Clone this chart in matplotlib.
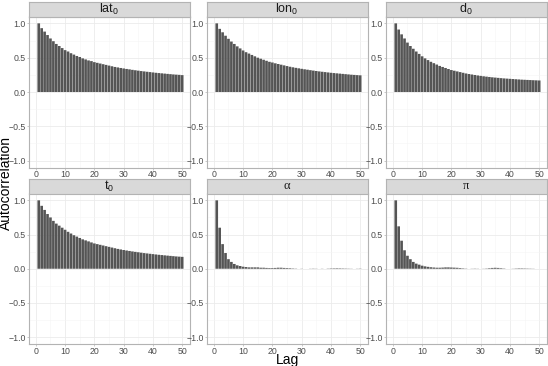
import matplotlib
matplotlib.use("Agg")
import matplotlib.pyplot as plt
import numpy as np

plt.rcParams['font.family'] = ['Liberation Sans', 'DejaVu Sans']
plt.rcParams['mathtext.fontset'] = 'custom'
plt.rcParams['mathtext.rm'] = 'Liberation Sans'
plt.rcParams['mathtext.it'] = 'Liberation Sans:italic'

lags = list(range(1, 51))

lat0 = [1.0, 0.93, 0.88, 0.83, 0.78, 0.74, 0.70, 0.67, 0.64, 0.61,
        0.59, 0.565, 0.545, 0.525, 0.51, 0.49, 0.475, 0.46, 0.45, 0.435,
        0.425, 0.415, 0.405, 0.395, 0.385, 0.375, 0.365, 0.358, 0.35, 0.343,
        0.336, 0.33, 0.323, 0.317, 0.311, 0.305, 0.30, 0.295, 0.29, 0.285,
        0.28, 0.276, 0.272, 0.268, 0.264, 0.26, 0.256, 0.253, 0.25, 0.246]
lon0 = [1.0, 0.92, 0.87, 0.82, 0.775, 0.735, 0.70, 0.665, 0.635, 0.605,
        0.58, 0.56, 0.54, 0.52, 0.50, 0.485, 0.47, 0.455, 0.44, 0.43,
        0.418, 0.408, 0.398, 0.388, 0.378, 0.368, 0.36, 0.352, 0.345, 0.338,
        0.331, 0.325, 0.318, 0.312, 0.306, 0.30, 0.295, 0.29, 0.285, 0.28,
        0.276, 0.272, 0.268, 0.264, 0.26, 0.256, 0.252, 0.249, 0.246, 0.243]
d0 = [1.0, 0.91, 0.84, 0.78, 0.72, 0.67, 0.63, 0.59, 0.555, 0.52,
      0.49, 0.465, 0.44, 0.42, 0.40, 0.38, 0.365, 0.35, 0.335, 0.32,
      0.31, 0.30, 0.29, 0.28, 0.27, 0.262, 0.255, 0.248, 0.241, 0.235,
      0.229, 0.224, 0.219, 0.214, 0.21, 0.206, 0.202, 0.198, 0.195, 0.192,
      0.189, 0.186, 0.183, 0.18, 0.178, 0.176, 0.174, 0.172, 0.17, 0.168]
t0 = [1.0, 0.92, 0.86, 0.80, 0.75, 0.70, 0.66, 0.63, 0.60, 0.57,
      0.54, 0.515, 0.49, 0.47, 0.45, 0.43, 0.415, 0.40, 0.385, 0.37,
      0.36, 0.35, 0.34, 0.33, 0.32, 0.31, 0.30, 0.29, 0.282, 0.274,
      0.267, 0.26, 0.253, 0.247, 0.241, 0.235, 0.229, 0.224, 0.219, 0.214,
      0.209, 0.204, 0.2, 0.196, 0.192, 0.188, 0.184, 0.18, 0.177, 0.174]
alpha = [1.0, 0.60, 0.36, 0.23, 0.14, 0.10, 0.07, 0.05, 0.04, 0.03,
         0.025, 0.02, 0.02, 0.02, 0.02, 0.015, 0.015, 0.012, 0.01, 0.01,
         0.012, 0.015, 0.015, 0.012, 0.01, 0.008, 0.005, 0.003, 0.0, -0.002,
         0.0, 0.0, 0.002, 0.003, 0.002, 0.0, -0.002, 0.0, 0.003, 0.005,
         0.006, 0.007, 0.006, 0.005, 0.004, 0.003, 0.002, 0.0, -0.002, -0.003]
pi_vals = [1.0, 0.62, 0.41, 0.27, 0.19, 0.14, 0.10, 0.075, 0.06, 0.045,
           0.035, 0.028, 0.022, 0.018, 0.015, 0.015, 0.017, 0.02, 0.02, 0.018,
           0.016, 0.014, 0.01, 0.006, 0.003, 0.0, -0.002, -0.003, -0.002, 0.0,
           0.002, 0.004, 0.008, 0.012, 0.014, 0.012, 0.008, 0.004, 0.0, 0.0,
           0.002, 0.004, 0.006, 0.006, 0.005, 0.004, 0.003, 0.002, 0.0, 0.0]

titles = [r'lat$_0$', r'lon$_0$', r'd$_0$', r't$_0$', '\u03b1', '\u03c0']
title_fonts = [None, None, None, None, 'Liberation Serif', 'Liberation Serif']
series = [lat0, lon0, d0, t0, alpha, pi_vals]

W, H = 548, 366
fig = plt.figure(figsize=(W / 100, H / 100), dpi=100)

col_x = [(28.5, 189.5), (206.5, 367.5), (385.5, 546.5)]
row_y = [(2.0, 16.5, 167.5), (179.0, 193.5, 344.0)]  # strip top, panel top, panel bottom

bar_color = '#555555'
border_color = '#B3B3B3'
grid_color = '#EBEBEB'

for i, (title, vals) in enumerate(zip(titles, series)):
    r, c = divmod(i, 3)
    x0, x1 = col_x[c]
    st, pt, pb = row_y[r]
    ax = fig.add_axes([x0 / W, 1 - pb / H, (x1 - x0) / W, (pb - pt) / H])
    ax.bar(lags, vals, width=0.9, color=bar_color, linewidth=0, zorder=3,
           snap=False, antialiased=True)
    ax.set_xlim(-2.5, 52.5)
    ax.set_ylim(-1.1, 1.1)
    ax.set_xticks([0, 10, 20, 30, 40, 50])
    ax.set_xticks([5, 15, 25, 35, 45], minor=True)
    ax.set_yticks([-1.0, -0.5, 0.0, 0.5, 1.0])
    ax.set_yticks([-0.75, -0.25, 0.25, 0.75], minor=True)
    ax.set_yticklabels(['\u22121.0', '\u22120.5', '0.0', '0.5', '1.0'])
    ax.grid(True, which='major', color=grid_color, linewidth=0.6, zorder=0)
    ax.grid(True, which='minor', color='#F5F5F5', linewidth=0.4, zorder=0)
    ax.tick_params(which='major', length=1.5, width=0.5, color=border_color,
                   labelsize=6.3, labelcolor='#4D4D4D', pad=0.4)
    ax.tick_params(which='minor', length=0)
    for sp in ax.spines.values():
        sp.set_color(border_color)
        sp.set_linewidth(0.8)
    ax.set_axisbelow(True)
    # strip
    sax = fig.add_axes([x0 / W, 1 - pt / H, (x1 - x0) / W, (pt - st) / H])
    sax.set_facecolor('#D9D9D9')
    sax.set_xticks([])
    sax.set_yticks([])
    for sp in sax.spines.values():
        sp.set_color(border_color)
        sp.set_linewidth(0.8)
    kw = {}
    if title_fonts[i]:
        kw['family'] = title_fonts[i]
    sax.text(0.5, 0.5, title, ha='center', va='center', fontsize=9,
             color='#1A1A1A', transform=sax.transAxes, **kw)

fig.text(6.3 / W, 1 - 183 / H, 'Autocorrelation', rotation=90, ha='center',
         va='center', fontsize=10, color='black')
fig.text(287 / W, 1 - 360 / H, 'Lag', ha='center', va='center', fontsize=10,
         color='black')

fig.savefig('out.png', dpi=100, facecolor='white')
